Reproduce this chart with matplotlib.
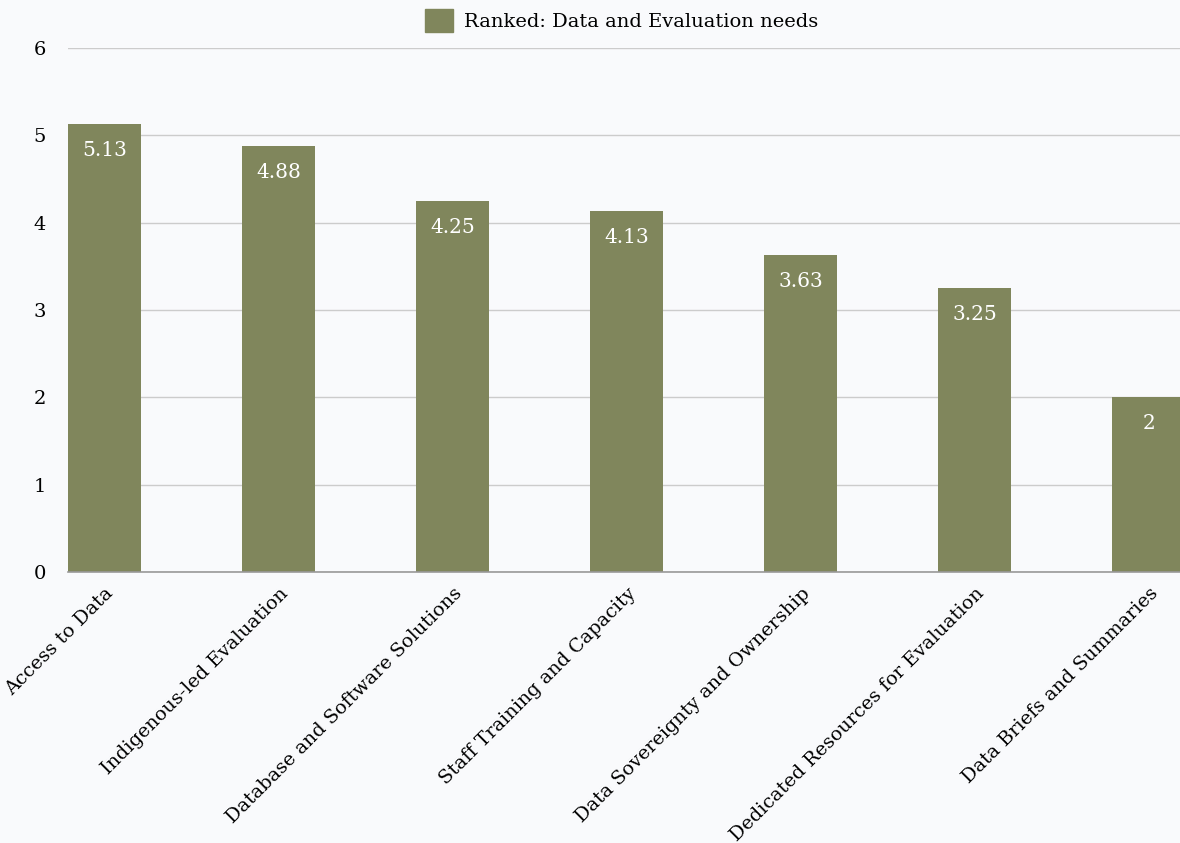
import matplotlib.pyplot as plt
from matplotlib.patches import Patch

# Ranked needs, average score per item
categories = [
    "Access to Data",
    "Indigenous-led Evaluation",
    "Database and Software Solutions",
    "Staff Training and Capacity",
    "Data Sovereignty and Ownership",
    "Dedicated Resources for Evaluation",
    "Data Briefs and Summaries",
]
scores = [5.13, 4.88, 4.25, 4.13, 3.63, 3.25, 2]
series_name = "Ranked: Data and Evaluation needs"

bar_color = "#80865c"
bg = "#f9fafc"

plt.rcParams["font.family"] = ["DejaVu Serif"]

fig = plt.figure(figsize=(11.8, 8.43), dpi=100, facecolor=bg)
ax = fig.add_axes([0.0576, 0.3215, 0.9424, 0.6215], facecolor=bg)

x = list(range(len(categories)))
bars = ax.bar(x, scores, width=0.42, color=bar_color, zorder=3)

# value labels inside the top of each bar
for rect, v in zip(bars, scores):
    ax.annotate(f"{v:g}", (rect.get_x() + rect.get_width() / 2, v),
                xytext=(0, -12), textcoords="offset points",
                ha="center", va="top", color="white", fontsize=14.5, zorder=4)

ax.set_xlim(-0.21, 6.18)
ax.set_ylim(0, 6)
ax.set_yticks(range(0, 7))
ax.grid(axis="y", color="#cccccc", linewidth=1, zorder=0)
ax.tick_params(axis="y", length=0, pad=16, labelsize=14)
ax.tick_params(axis="x", length=0, pad=9)
ax.set_xticks(x)
ax.set_xticklabels(categories, rotation=45, ha="right", va="top",
                   rotation_mode="anchor", fontsize=13.8)

for side in ["top", "right", "left"]:
    ax.spines[side].set_visible(False)
ax.spines["bottom"].set_color("#999999")
ax.spines["bottom"].set_linewidth(1.2)
ax.spines["bottom"].set_zorder(5)

fig.legend(handles=[Patch(color=bar_color, label=series_name)],
           loc="upper center", bbox_to_anchor=(0.527, 1.01), frameon=False,
           fontsize=14, handlelength=1.4, handleheight=1.4, handletextpad=0.6)

fig.savefig("out.png", dpi=100, facecolor=bg)
